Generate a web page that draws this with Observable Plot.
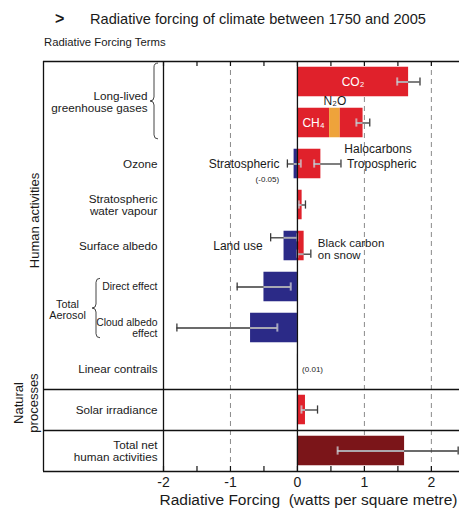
<!DOCTYPE html>
<html>
<head>
<meta charset="utf-8">
<script src="https://cdn.jsdelivr.net/npm/d3@7"></script>
<script src="https://cdn.jsdelivr.net/npm/@observablehq/plot@0.6"></script>
<style>
  body { margin: 0; background: #fff; font-family: "Liberation Sans", Arial, sans-serif; color: #1a1a1a; }
  #chart { position: relative; width: 459px; height: 514px; }
  #chart svg { position: absolute; left: 0; top: 0; }
  .arrow { position: absolute; left: 55px; top: 10px; font-size: 16px; font-weight: bold; line-height: 18px; }
  .title { position: absolute; left: 90px; top: 11px; font-size: 14.6px; line-height: 17px; white-space: nowrap; }
  .terms { position: absolute; left: 44px; top: 36px; font-size: 11.3px; line-height: 13px; white-space: nowrap; }
</style>
</head>
<body>
<div id="chart">
  <div class="arrow">&gt;</div>
  <div class="title">Radiative forcing of climate between 1750 and 2005</div>
  <div class="terms">Radiative Forcing Terms</div>
</div>
<script>
// Forcing terms, top to bottom
const rows = ["co2", "ghg", "ozone", "h2o", "albedo", "direct", "cloud", "contrails", "solar", "net"];
const rowLabels = ["", "", "Ozone", "Stratospheric\nwater vapour", "Surface albedo", "Direct effect",
  "Cloud albedo\neffect", "Linear contrails", "Solar irradiance", "Total net\nhuman activities"];

// Bar components (stacked within a term), W m-2
const componentRow = ["co2", "ghg", "ghg", "ghg", "ozone", "ozone", "h2o", "albedo", "albedo",
  "direct", "cloud", "contrails", "solar", "net"];
const componentName = ["CO₂", "CH₄", "N₂O", "Halocarbons", "Stratospheric", "Tropospheric",
  "Water vapour", "Land use", "Black carbon\non snow", "Direct effect", "Cloud albedo effect",
  "Linear contrails", "Solar irradiance", "Total net"];
const componentValue = [1.66, 0.48, 0.16, 0.34, -0.05, 0.35, 0.07, -0.2, 0.1, -0.5, -0.7, 0.01, 0.12, 1.6];
const componentKind = ["warming", "warming", "n2o", "warming", "cooling", "warming", "warming",
  "cooling", "warming", "cooling", "cooling", "contrail", "warming", "net"];

// Uncertainty ranges
const errorRow = ["co2", "ghg", "ozone", "ozone", "h2o", "albedo", "albedo", "direct", "cloud", "solar", "net"];
const errorLow = [1.49, 0.88, -0.15, 0.25, 0.02, -0.4, 0.0, -0.9, -1.8, 0.06, 0.6];
const errorHigh = [1.83, 1.08, 0.05, 0.65, 0.12, 0.0, 0.2, -0.1, -0.3, 0.30, 2.4];

// Bracketed groups of terms
const groupLabels = ["Long-lived\ngreenhouse gases", "Total\nAerosol"];
const groupFrom = ["co2", "direct"];
const groupTo = ["ghg", "cloud"];

// Sections on the far left
const sectionLabels = ["Human activities", "Natural\nprocesses"];
const sectionFrom = ["co2", "solar"];
const sectionTo = ["contrails", "solar"];

// Axis
const xTicks = [-2, -1.5, -1, -0.5, 0, 0.5, 1, 1.5, 2];
const xTickLabels = [-2, -1, 0, 1, 2];
const xGridDashed = [-1, 1, 2];
const xExtent = [-2, 2.42];
const xTitle = "Radiative Forcing  (watts per square metre)";

const kinds = ["warming", "cooling", "n2o", "net", "contrail"];
const kindColors = ["#e0212b", "#2b2a87", "#eea33b", "#7b1519", "#333333"];

// ---- layout
const W = 459, H = 514;
const mTop = 61, mBottom = 43, mLeft = 43, labelColumn = 120;
const frameH = H - mTop - mBottom;
const font = "Liberation Sans, Arial, sans-serif";
const sectionFont = 13, sectionLine = 1.2;

// ---- derived tables
const rowIndex = r => rows.indexOf(r);
const pos = {}, neg = {};
const components = componentRow.map((row, i) => {
  const v = componentValue[i];
  const acc = v >= 0 ? pos : neg;
  const x1 = acc[row] ?? 0, x2 = x1 + v;
  acc[row] = x2;
  return {row, r: rowIndex(row), name: componentName[i], value: v, kind: componentKind[i], x1, x2};
});

// surface albedo has two separate ranges, drawn above/below the centre
const lane = (row, mid) => row === "albedo" ? (mid < 0 ? -0.2 : 0.2) : 0;
const errors = errorRow.map((row, i) => {
  const lo = errorLow[i], hi = errorHigh[i], mid = (lo + hi) / 2;
  const barLo = neg[row] ?? 0, barHi = pos[row] ?? 0;
  return {row, mid, lo, hi, r: rowIndex(row) + lane(row, mid),
    inLo: Math.max(lo, barLo), inHi: Math.min(hi, barHi), barLo, barHi};
});
const caps = errors.flatMap(e => [e.lo, e.hi].map(x => ({x, r: e.r, inside: x >= e.barLo && x <= e.barHi})));
const errFor = c => errors.find(e => e.row === c.row && Math.sign(e.mid) === Math.sign(c.value));

const bracketed = new Set(groupFrom.flatMap((f, i) => rows.slice(rowIndex(f), rowIndex(groupTo[i]) + 1)));
const rowText = rows.map((row, i) => ({r: i, label: rowLabels[i], small: bracketed.has(row)})).filter(d => d.label);

const groups = groupLabels.map((label, i) => ({label, a: rowIndex(groupFrom[i]), b: rowIndex(groupTo[i])}));
const sections = sectionLabels.map((label, i) => ({label, a: rowIndex(sectionFrom[i]), b: rowIndex(sectionTo[i]),
  lines: label.split("\n").length}));
const hLines = [-0.5, ...sections.map(s => s.b + 0.5)];

// brace shapes for the two bracketed groups
const braceStyle = [{off: 5, y0: -0.45, y1: 0.4}, {off: 63, y0: -0.2, y1: 0.25}];
function bracePath(xr, y0, y1, w) {
  const xm = xr - w / 2, xl = xr - w, ym = (y0 + y1) / 2, r = 4;
  return `M${xr},${y0}Q${xm},${y0} ${xm},${y0 + r}L${xm},${ym - r}Q${xm},${ym} ${xl},${ym}` +
    `Q${xm},${ym} ${xm},${ym + r}L${xm},${y1 - r}Q${xm},${y1} ${xr},${y1}`;
}

const at = (names) => components.filter(c => names.includes(c.name));
const left = x => () => x;

// rotated section titles; multi-line titles are centred on the same column
const sectionMarks = sections.map(s => Plot.text([s], {
  x: left(xExtent[0]), y: d => (d.a + d.b) / 2, text: "label", rotate: -90,
  dx: -130 - (s.lines - 1) * sectionFont * sectionLine / 2, dy: s.lines > 1 ? -7 : -5,
  fontSize: sectionFont, lineHeight: sectionLine
}));

const chart = Plot.plot({
  width: W, height: H,
  marginTop: mTop, marginBottom: mBottom, marginLeft: mLeft, marginRight: 0,
  style: {fontFamily: font, fontSize: "11px", color: "#1a1a1a", background: "transparent"},
  x: {domain: xExtent, range: [mLeft + labelColumn, W], axis: null},
  y: {domain: [rows.length - 0.5, -0.5], axis: null},
  color: {domain: kinds, range: kindColors},
  marks: [
    // grid
    Plot.ruleX(xGridDashed, {stroke: "#8a8a8a", strokeDasharray: "5,4"}),
    // bars
    Plot.rect(components, {x1: "x1", x2: "x2", y1: d => d.r - 0.36, y2: d => d.r + 0.36, fill: "kind"}),
    // uncertainty ranges
    Plot.ruleY(errors, {y: "r", x1: "lo", x2: "hi", stroke: "#3a3a3a", strokeWidth: 1.3}),
    Plot.ruleY(errors.filter(e => e.inHi > e.inLo), {y: "r", x1: "inLo", x2: "inHi", stroke: "#cfcfd6", strokeOpacity: 0.75, strokeWidth: 2}),
    Plot.ruleX(caps.filter(c => !c.inside), {x: "x", y1: d => d.r - 0.1, y2: d => d.r + 0.1, stroke: "#3a3a3a", strokeWidth: 1.3}),
    Plot.ruleX(caps.filter(c => c.inside), {x: "x", y1: d => d.r - 0.1, y2: d => d.r + 0.1, stroke: "#cfcfd6", strokeOpacity: 0.75, strokeWidth: 2}),
    // frame lines
    Plot.ruleX([0], {stroke: "#111", strokeWidth: 1.3}),
    Plot.ruleX([xExtent[0]], {stroke: "#111", strokeWidth: 1.3}),
    Plot.ruleX([xExtent[0]], {stroke: "#111", strokeWidth: 1.3, dx: -labelColumn}),
    Plot.ruleY(hLines, {stroke: "#111", strokeWidth: 1.3}),
    Plot.ruleY([rows.length - 0.5], {stroke: "#111", strokeWidth: 1.3}),
    Plot.ruleX(xTicks, {stroke: "#111", strokeWidth: 1.2, insetTop: frameH - 5}),
    Plot.ruleX(xTicks, {stroke: "#111", strokeWidth: 1.2, insetBottom: frameH - 5}),
    // axis labels
    Plot.text(xTickLabels, {x: d => d, text: d => String(d), frameAnchor: "bottom", dy: 15, fontSize: 14}),
    Plot.text([xTitle], {x: left((xExtent[0] + xExtent[1]) / 2), text: d => d, frameAnchor: "bottom", dy: 33, dx: -3, fontSize: 15.5}),
    // in-bar and beside-bar annotations
    Plot.text(at(["CO₂", "CH₄"]), {x: d => (d.x1 + d.x2) / 2, y: "r", text: "name", fill: "white", fontSize: 12}),
    Plot.text(at(["N₂O"]), {x: d => (d.x1 + d.x2) / 2, y: "r", text: "name", dy: -22, fontSize: 12}),
    Plot.text(at(["Halocarbons"]), {x: "x1", y: "r", text: "name", dx: 4, dy: 26, textAnchor: "start", fontSize: 12}),
    Plot.text(at(["Stratospheric", "Land use"]), {x: d => errFor(d).lo, y: "r", text: "name", dx: -8, textAnchor: "end", fontSize: 12}),
    Plot.text(at(["Stratospheric"]), {x: d => errFor(d).lo, y: "r", text: d => `(${d.value})`, dx: -20, dy: 15, fontSize: 8}),
    Plot.text(at(["Tropospheric"]), {x: d => errFor(d).hi, y: "r", text: "name", dx: 6, textAnchor: "start", fontSize: 12}),
    Plot.text(at(["Black carbon\non snow"]), {x: d => errFor(d).hi, y: "r", text: "name", dx: 7, dy: 3, textAnchor: "start", fontSize: 11.5, lineHeight: 1.02}),
    Plot.text(at(["Linear contrails"]), {x: "x2", y: "r", text: d => `(${d.value})`, dx: 4, textAnchor: "start", fontSize: 8}),
    // term labels in the left column
    Plot.text(rowText.filter(d => !d.small), {x: left(xExtent[0]), y: "r", text: "label", dx: -6, textAnchor: "end", fontSize: 11.7}),
    Plot.text(rowText.filter(d => d.small), {x: left(xExtent[0]), y: "r", text: "label", dx: -6, textAnchor: "end", fontSize: 10.4}),
    Plot.text(groups.slice(0, 1), {x: left(xExtent[0]), y: d => (d.a + d.b) / 2, text: "label", dx: -16, textAnchor: "end", fontSize: 11.7}),
    Plot.text(groups.slice(1), {x: left(xExtent[0]), y: d => (d.a + d.b) / 2 + 0.07, text: "label", dx: -96, fontSize: 10.8}),
    (index, scales) => {
      const g = d3.create("svg:g").attr("fill", "none").attr("stroke", "#444").attr("stroke-width", 1);
      groups.forEach((grp, i) => {
        const s = braceStyle[i];
        const xr = scales.x(xExtent[0]) - s.off;
        g.append("path").attr("d", bracePath(xr, scales.y(grp.a + s.y0), scales.y(grp.b + s.y1), 8));
      });
      return g.node();
    },
    // sections
    ...sectionMarks
  ]
});
document.getElementById("chart").prepend(chart);
</script>
</body>
</html>
